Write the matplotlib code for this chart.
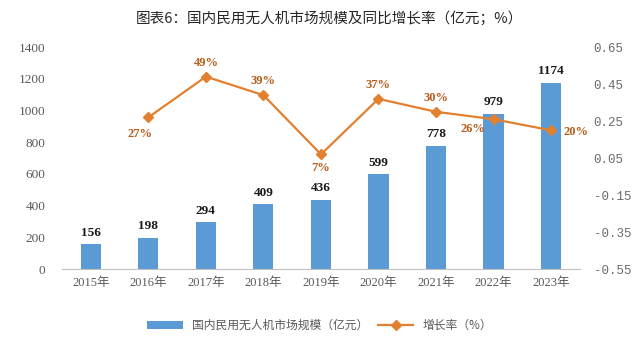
import numpy as np
import matplotlib
matplotlib.use("Agg")
from matplotlib import pyplot as plt

plt.rcParams['font.family'] = ['Noto Sans CJK SC', 'DejaVu Sans']

# Data
years = ['2015年', '2016年', '2017年', '2018年', '2019年', '2020年', '2021年', '2022年', '2023年']
market = [156, 198, 294, 409, 436, 599, 778, 979, 1174]
growth = [0.27, 0.49, 0.39, 0.07, 0.37, 0.30, 0.26, 0.20]
growth_labels = ['27%', '49%', '39%', '7%', '37%', '30%', '26%', '20%']

bar_color = '#5B9BD5'
line_color = '#E2802F'
text_gray = '#595959'
serif = ['Liberation Serif', 'Noto Sans CJK SC']

fig = plt.figure(figsize=(6.4, 3.41), dpi=100)
ax = fig.add_axes([0.097, 0.211, 0.809, 0.651])
ax2 = ax.twinx()

x = np.arange(len(years))
bars = ax.bar(x, market, width=0.35, color=bar_color, label='国内民用无人机市场规模（亿元）')
for xi, v in zip(x, market):
    ax.annotate(str(v), (xi, v), xytext=(0, 4), textcoords='offset points',
                ha='center', va='bottom', fontsize=9.5, fontweight='bold',
                family=serif, color='#1a1a1a')

ax.set_ylim(0, 1400)
ax.set_yticks(np.arange(0, 1401, 200))
ax.set_xlim(-0.5, len(years) - 0.5)
ax.set_xticks(x)
ax.set_xticklabels(years, fontsize=9, color=text_gray, family=serif)
for t in ax.get_yticklabels():
    t.set_family(serif)
ax.tick_params(axis='y', labelsize=9.5, colors=text_gray, length=0, pad=12)
ax.tick_params(axis='x', length=0, pad=6)
for s in ['top', 'right', 'left']:
    ax.spines[s].set_visible(False)
ax.spines['bottom'].set_color('#BFBFBF')

gx = x[1:]
line, = ax2.plot(gx, growth, color=line_color, lw=1.6, marker='D', ms=5,
                 label='增长率（%）')
# label offsets in points (dx, dy)
offsets = {0: (-6, -12), 3: (0, -10), 6: (-15, -7), 7: (18, -1)}
for i, (xi, g, lab) in enumerate(zip(gx, growth, growth_labels)):
    dx, dy = offsets.get(i, (0, 10))
    ax2.annotate(lab, (xi, g), xytext=(dx, dy), textcoords='offset points',
                 ha='center', va='center', fontsize=9, fontweight='bold',
                 family=serif, color='#B85C1A')

ax2.set_ylim(-0.55, 0.65)
ax2.set_yticks(np.arange(-0.55, 0.66, 0.2))
ax2.set_yticklabels(['%.2f' % v for v in np.arange(-0.55, 0.66, 0.2)],
                    family=['Liberation Mono', 'DejaVu Sans Mono'])
ax2.tick_params(axis='y', labelsize=9, colors='#6b6b6b', length=0, pad=10)
for s in ['top', 'right', 'left', 'bottom']:
    ax2.spines[s].set_visible(False)

fig.text(0.515, 0.945, '图表6：国内民用无人机市场规模及同比增长率（亿元；%）',
         ha='center', va='center', fontsize=10.5, color='#262626')

handles = [bars, line]
fig.legend(handles, [h.get_label() for h in handles], loc='center',
           bbox_to_anchor=(0.5, 0.045), ncol=2, frameon=False, fontsize=8.5,
           labelcolor=text_gray, handlelength=3, columnspacing=0.8)

fig.savefig('out.png', dpi=100)
